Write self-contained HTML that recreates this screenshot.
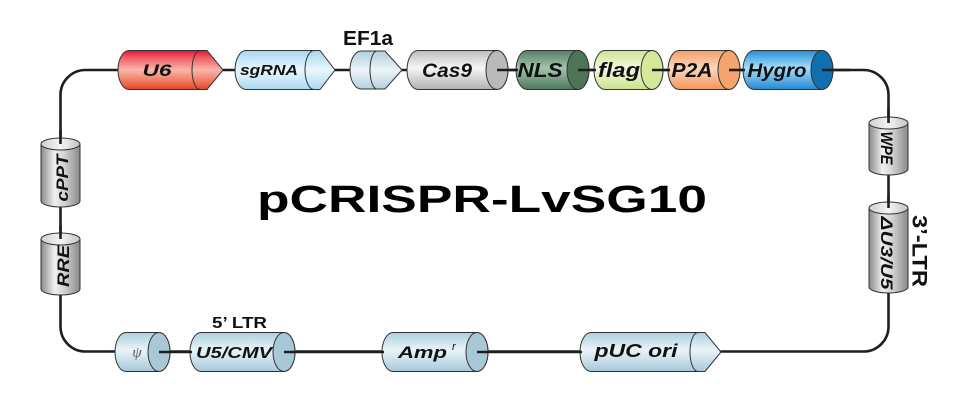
<!DOCTYPE html>
<html><head><meta charset="utf-8">
<style>html,body{margin:0;padding:0;background:#fff;}svg{display:block}</style></head>
<body>
<svg width="966" height="411" viewBox="0 0 966 411" xmlns="http://www.w3.org/2000/svg" font-family="'Liberation Sans', Arial, sans-serif">
<defs>
  <linearGradient id="gRed" x1="0" y1="0" x2="0" y2="1">
    <stop offset="0" stop-color="#e3143a"/><stop offset="0.18" stop-color="#ee5c62"/>
    <stop offset="0.5" stop-color="#f8b6aa"/><stop offset="0.85" stop-color="#ee6a4e"/><stop offset="1" stop-color="#e2462a"/>
  </linearGradient>
  <linearGradient id="gSky" x1="0" y1="0" x2="0" y2="1">
    <stop offset="0" stop-color="#a6d6f1"/><stop offset="0.5" stop-color="#eaf7fd"/><stop offset="1" stop-color="#acd9f1"/>
  </linearGradient>
  <linearGradient id="gEF" x1="0" y1="0" x2="0" y2="1">
    <stop offset="0" stop-color="#b0cedd"/><stop offset="0.5" stop-color="#ecf4f8"/><stop offset="1" stop-color="#b3cfdd"/>
  </linearGradient>
  <linearGradient id="gGray" x1="0" y1="0" x2="0" y2="1">
    <stop offset="0" stop-color="#bdbdbd"/><stop offset="0.45" stop-color="#f6f6f6"/><stop offset="1" stop-color="#b0b0b0"/>
  </linearGradient>
  <linearGradient id="gGreen" x1="0" y1="0" x2="0" y2="1">
    <stop offset="0" stop-color="#557f66"/><stop offset="0.45" stop-color="#a3c4ad"/><stop offset="1" stop-color="#4b785d"/>
  </linearGradient>
  <linearGradient id="gLime" x1="0" y1="0" x2="0" y2="1">
    <stop offset="0" stop-color="#cde493"/><stop offset="0.45" stop-color="#f4f9de"/><stop offset="1" stop-color="#cae28c"/>
  </linearGradient>
  <linearGradient id="gOrange" x1="0" y1="0" x2="0" y2="1">
    <stop offset="0" stop-color="#f39e66"/><stop offset="0.45" stop-color="#fcd8be"/><stop offset="1" stop-color="#f0955a"/>
  </linearGradient>
  <linearGradient id="gBlue" x1="0" y1="0" x2="0" y2="1">
    <stop offset="0" stop-color="#238fd8"/><stop offset="0.45" stop-color="#a8def8"/><stop offset="1" stop-color="#2388d2"/>
  </linearGradient>
  <linearGradient id="gPale" x1="0" y1="0" x2="0" y2="1">
    <stop offset="0" stop-color="#adcfdf"/><stop offset="0.45" stop-color="#eaf4f8"/><stop offset="1" stop-color="#a6c8da"/>
  </linearGradient>
  <linearGradient id="gVert" x1="0" y1="0" x2="1" y2="0">
    <stop offset="0" stop-color="#8a8a8a"/><stop offset="0.35" stop-color="#f0f0f0"/><stop offset="0.6" stop-color="#d2d2d2"/><stop offset="1" stop-color="#888888"/>
  </linearGradient>
  <linearGradient id="gVcap" x1="0" y1="0" x2="1" y2="0">
    <stop offset="0" stop-color="#cfcfcf"/><stop offset="0.5" stop-color="#f4f4f4"/><stop offset="1" stop-color="#c4c4c4"/>
  </linearGradient>
</defs>

<!-- backbone loop -->
<rect x="60.5" y="70" width="828" height="281.5" rx="25" ry="25" fill="none" stroke="#1e1e1e" stroke-width="2.6"/>

<g stroke="#333" stroke-width="1">
  <!-- U6 arrow -->
  <path d="M129,50.5 L207,50.5 L223,70 L207,89.5 L129,89.5 A11 19.5 0 0 1 129,50.5 Z" fill="url(#gRed)"/>
  <path d="M200,50.5 A8 19.5 0 0 0 200,89.5" fill="none"/>
  <!-- sgRNA arrow -->
  <path d="M246,50.5 L320,50.5 L335,70 L320,89.5 L246,89.5 A11 19.5 0 0 1 246,50.5 Z" fill="url(#gSky)"/>
  <path d="M314,50.5 A9 19.5 0 0 0 314,89.5" fill="none"/>
  <!-- EF1a arrow -->
  <path d="M361,51 L385,51 L402,70 L385,89 L361,89 A11 19 0 0 1 361,51 Z" fill="url(#gEF)"/>
  <path d="M377,51 A7 19 0 0 0 377,89" fill="none"/>

  <!-- Cas9 -->
  <path d="M497,50.5 L418,50.5 A11 19.5 0 0 0 418,89.5 L497,89.5 A11 19.5 0 0 0 497,50.5 Z" fill="url(#gGray)"/>
  <ellipse cx="497" cy="70" rx="11" ry="19.5" fill="#b9babc"/>
  <!-- NLS -->
  <path d="M578,50.5 L527,50.5 A11 19.5 0 0 0 527,89.5 L578,89.5 A11 19.5 0 0 0 578,50.5 Z" fill="url(#gGreen)"/>
  <ellipse cx="578" cy="70" rx="11" ry="19.5" fill="#4d7456"/>
  <!-- flag -->
  <path d="M652,50.5 L605,50.5 A11 19.5 0 0 0 605,89.5 L652,89.5 A11 19.5 0 0 0 652,50.5 Z" fill="url(#gLime)"/>
  <ellipse cx="652" cy="70" rx="11" ry="19.5" fill="#d6e89a"/>
  <!-- P2A -->
  <path d="M729,50.5 L679,50.5 A11 19.5 0 0 0 679,89.5 L729,89.5 A11 19.5 0 0 0 729,50.5 Z" fill="url(#gOrange)"/>
  <ellipse cx="729" cy="70" rx="11" ry="19.5" fill="#f6a46f"/>
  <!-- Hygro -->
  <path d="M822,50.5 L754,50.5 A11 19.5 0 0 0 754,89.5 L822,89.5 A11 19.5 0 0 0 822,50.5 Z" fill="url(#gBlue)"/>
  <ellipse cx="822" cy="70" rx="11" ry="19.5" fill="#0f70b0"/>

  <!-- psi -->
  <path d="M159,332.5 L126,332.5 A11 19.5 0 0 0 126,371.5 L159,371.5 A11 19.5 0 0 0 159,332.5 Z" fill="url(#gPale)"/>
  <ellipse cx="159" cy="352" rx="11" ry="19.5" fill="#a9c8d7"/>
  <!-- U5/CMV -->
  <path d="M284,332.5 L201,332.5 A11 19.5 0 0 0 201,371.5 L284,371.5 A11 19.5 0 0 0 284,332.5 Z" fill="url(#gPale)"/>
  <ellipse cx="284" cy="352" rx="11" ry="19.5" fill="#a9c8d7"/>
  <!-- Amp -->
  <path d="M477,332.5 L393,332.5 A11 19.5 0 0 0 393,371.5 L477,371.5 A11 19.5 0 0 0 477,332.5 Z" fill="url(#gPale)"/>
  <ellipse cx="477" cy="352" rx="11" ry="19.5" fill="#a9c8d7"/>
  <!-- pUC ori arrow -->
  <path d="M591,332.5 L705,332.5 L721,352 L705,371.5 L591,371.5 A11 19.5 0 0 1 591,332.5 Z" fill="url(#gPale)"/>
  <path d="M698,332.5 A8 19.5 0 0 0 698,371.5" fill="none"/>

  <!-- vertical: cPPT -->
  <path d="M41,144 L41,201 A19.5 6 0 0 0 80,201 L80,144 Z" fill="url(#gVert)"/>
  <ellipse cx="60.5" cy="144" rx="19.5" ry="6" fill="url(#gVcap)"/>
  <!-- RRE -->
  <path d="M41,239 L41,289 A19.5 6 0 0 0 80,289 L80,239 Z" fill="url(#gVert)"/>
  <ellipse cx="60.5" cy="239" rx="19.5" ry="6" fill="url(#gVcap)"/>
  <!-- WPE -->
  <path d="M869,123 L869,169 A19.5 6 0 0 0 908,169 L908,123 Z" fill="url(#gVert)"/>
  <ellipse cx="888.5" cy="123" rx="19.5" ry="6" fill="url(#gVcap)"/>
  <!-- dU3/U5 -->
  <path d="M869,208 L869,287 A19.5 6 0 0 0 908,287 L908,208 Z" fill="url(#gVert)"/>
  <ellipse cx="888.5" cy="208" rx="19.5" ry="6" fill="url(#gVcap)"/>
</g>

<!-- connector segments drawn over caps -->
<g stroke="#1e1e1e" stroke-width="2.6" fill="none">
  <line x1="497" y1="70" x2="518" y2="70"/>
  <line x1="578" y1="70" x2="596" y2="70"/>
  <line x1="652" y1="70" x2="670" y2="70"/>
  <line x1="729" y1="70" x2="745" y2="70"/>
  <line x1="822" y1="70" x2="850" y2="70"/>
  <line x1="159" y1="352" x2="192" y2="352"/>
  <line x1="284" y1="352" x2="384" y2="352"/>
  <line x1="477" y1="352" x2="582" y2="352"/>
  <line x1="60.5" y1="130" x2="60.5" y2="144"/>
  <line x1="60.5" y1="225" x2="60.5" y2="239"/>
  <line x1="888.5" y1="108" x2="888.5" y2="123"/>
  <line x1="888.5" y1="195" x2="888.5" y2="208"/>
</g>

<!-- labels -->
<g fill="#111" font-weight="bold" font-style="italic" text-anchor="middle" lengthAdjust="spacingAndGlyphs">
  <text x="157" y="76" font-size="17" textLength="29" lengthAdjust="spacingAndGlyphs">U6</text>
  <text x="269" y="75" font-size="15" textLength="58" lengthAdjust="spacingAndGlyphs">sgRNA</text>
  <text x="447" y="77" font-size="19" textLength="50" lengthAdjust="spacingAndGlyphs">Cas9</text>
  <text x="540" y="77" font-size="20" textLength="45" lengthAdjust="spacingAndGlyphs">NLS</text>
  <text x="619" y="77" font-size="20" textLength="42" lengthAdjust="spacingAndGlyphs">flag</text>
  <text x="692" y="77" font-size="20" textLength="41" lengthAdjust="spacingAndGlyphs">P2A</text>
  <text x="777" y="77" font-size="19" textLength="59" lengthAdjust="spacingAndGlyphs">Hygro</text>
  <text x="234" y="358" font-size="16" textLength="76" lengthAdjust="spacingAndGlyphs">U5/CMV</text>
  <text x="636" y="357" font-size="18" textLength="83" lengthAdjust="spacingAndGlyphs">pUC ori</text>
  <text x="398" y="358" font-size="17" text-anchor="start" textLength="49" lengthAdjust="spacingAndGlyphs">Amp</text>
  <text x="452" y="350" font-size="11" text-anchor="start" font-weight="normal">r</text>
</g>
<text x="137" y="357" font-size="15" fill="#555" font-style="italic" text-anchor="middle" font-family="'Liberation Serif', serif">ψ</text>

<text x="368" y="45" font-size="20" font-weight="bold" fill="#111" text-anchor="middle" textLength="50" lengthAdjust="spacingAndGlyphs">EF1a</text>
<text x="239.5" y="328" font-size="16" font-weight="bold" fill="#111" text-anchor="middle" textLength="55" lengthAdjust="spacingAndGlyphs">5’ LTR</text>

<!-- vertical labels -->
<g fill="#111" font-weight="bold" font-style="italic" text-anchor="middle" font-size="13">
  <text transform="translate(62,178) rotate(-90) scale(1,1.3)" y="4.7" textLength="47" lengthAdjust="spacingAndGlyphs">cPPT</text>
  <text transform="translate(63,266) rotate(-90) scale(1,1.3)" y="4.7" textLength="42" lengthAdjust="spacingAndGlyphs">RRE</text>
  <text transform="translate(887,148) rotate(90) scale(1,1.3)" y="4.7" textLength="33" lengthAdjust="spacingAndGlyphs">WPE</text>
  <text transform="translate(887,253) rotate(90) scale(1,1.3)" y="4.7" textLength="73" lengthAdjust="spacingAndGlyphs">ΔU3/U5</text>
</g>
<text transform="translate(920,251) rotate(90) scale(1,1.3)" y="5.6" font-size="16" font-weight="bold" fill="#111" text-anchor="middle" textLength="72" lengthAdjust="spacingAndGlyphs">3’-LTR</text>

<!-- title -->
<text x="257" y="212" font-size="38" font-weight="bold" fill="#000" textLength="450" lengthAdjust="spacingAndGlyphs">pCRISPR-LvSG10</text>
</svg>
</body></html>
